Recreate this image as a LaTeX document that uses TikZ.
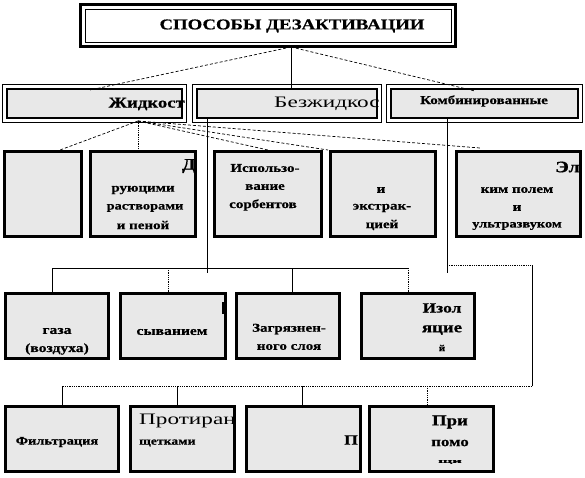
\documentclass[tikz,border=0pt]{standalone}
\usepackage{fontspec}
\setmainfont{Liberation Serif}
\newfontfamily\rs[FakeStretch=1.25, BoldFeatures={FakeBold=0.6}]{Liberation Serif}
\newfontfamily\rw[FakeStretch=1.45]{Liberation Serif}
\definecolor{boxgray}{HTML}{E8E8E8}
\begin{document}
\begin{tikzpicture}[x=1pt,y=-1pt,
  cell/.style={draw=black, line width=2.6pt, fill=boxgray, inner sep=0pt},
  dcell/.style={draw=black, line width=2pt, fill=boxgray, inner sep=0pt, minimum height=29pt},
  conn/.style={line width=0.8pt},
  dsh/.style={line width=0.7pt, densely dashed},
  dot/.style={line width=0.8pt, densely dotted},
  tx/.style={inner sep=0pt, font=\rs\bfseries\fontsize{#1}{#1}\selectfont},
  tr/.style={inner sep=0pt, font=\rw\fontsize{#1}{#1}\selectfont}]
\useasboundingbox (0,0) rectangle (585,477);
\fill[white] (0,0) rectangle (585,477);

% title
\node[draw=black, line width=0.8pt, fill=white, minimum width=366pt, minimum height=33pt, inner sep=0pt] (title) at (268,25.5) {};
\draw[line width=3pt] ([shift={(-4pt,4pt)}]title.north west) rectangle ([shift={(4pt,-4pt)}]title.south east);
\node[tx=15] (ttl) at (292,26) {СПОСОБЫ ДЕЗАКТИВАЦИИ};

% row 2
\node[dcell, minimum width=175pt] (liq) at (94.5,103.5) {};
\node[dcell, minimum width=180pt] (noliq) at (287,103.5) {};
\node[dcell, minimum width=187pt] (comb) at (484.5,103.5) {};
\foreach \b in {liq,noliq,comb}
  \draw[line width=0.9pt] ([shift={(-3.5pt,3.5pt)}]\b.north west) rectangle ([shift={(3.5pt,-3.5pt)}]\b.south east);
\node[tx=15, anchor=east] (liqt) at (185,104) {Жидкост};
\node[tr=16, anchor=west] (noliqt) at (274,104) {Безжидкос};
\node[tx=12] (combt) at (484,101) {Комбинированные};

% row 3
\node[cell, minimum width=77.4pt, minimum height=85.4pt] (r3a) at (43,194) {};
\node[cell, minimum width=105.4pt, minimum height=85.4pt] (r3b) at (143,194) {};
\node[cell, minimum width=107.4pt, minimum height=85.4pt] (r3c) at (268,194) {};
\node[cell, minimum width=105.4pt, minimum height=85.4pt] (r3d) at (383,194) {};
\node[cell, minimum width=124.4pt, minimum height=85.4pt] (r3e) at (518.5,194) {};
\node[tx=16, anchor=east] (r3b0) at (196,166) {Д};
\node[tx=12] (r3b1) at (143,190) {руюцими};
\node[tx=11.5] (r3b2) at (145,208) {растворами};
\node[tx=12] (r3b3) at (143,225) {и пеной};
\node[tx=12] (r3c1) at (265,168) {Использо-};
\node[tx=12] (r3c2) at (265,187) {вание};
\node[tx=12] (r3c3) at (263,205) {сорбентов};
\node[tx=12] (r3d1) at (381,190) {и};
\node[tx=12] (r3d2) at (382,208) {экстрак-};
\node[tx=12] (r3d3) at (382,225) {цией};
\node[tx=16, anchor=east] (r3e0) at (580,167) {Эл};
\node[tx=12] (r3e1) at (517,190) {ким полем};
\node[tx=12] (r3e2) at (517,208) {и};
\node[tx=11.5] (r3e3) at (517,226) {ультразвуком};

% row 4
\node[cell, minimum width=103.4pt, minimum height=65.4pt] (r4a) at (57,326) {};
\node[cell, minimum width=105.4pt, minimum height=65.4pt] (r4b) at (173,326) {};
\node[cell, minimum width=103.4pt, minimum height=65.4pt] (r4c) at (288,326) {};
\node[cell, minimum width=113.4pt, minimum height=65.4pt] (r4d) at (418,326) {};
\node[tx=12.5] (r4a1) at (57,331) {газа};
\node[tx=12.5] (r4a2) at (57,349) {(воздуха)};
\node[tx=12.5] (r4b1) at (172,332) {сыванием};
\draw[line width=1.6pt] (223,302) -- (223,314);
\node[tx=12] (r4c1) at (289,329) {Загрязнен-};
\node[tx=12] (r4c2) at (289,347) {ного слоя};
\node[tx=14] (r4d1) at (442,308) {Изол};
\node[tx=15] (r4d2) at (442,330) {яцие};
\node[tx=9] (r4d3) at (442,348) {й};

% row 5
\node[cell, minimum width=113.4pt, minimum height=65.4pt] (r5a) at (62,439) {};
\node[cell, minimum width=104.4pt, minimum height=65.4pt] (r5b) at (182.5,439) {};
\node[cell, minimum width=114.4pt, minimum height=65.4pt] (r5c) at (303.5,439) {};
\node[cell, minimum width=124.4pt, minimum height=65.4pt] (r5d) at (431.5,439) {};
\node[tx=11.5] (r5a1) at (57,442) {Фильтрация};
\node[tr=16, anchor=west] (r5b1) at (139,421) {Протиран};
\node[tx=11, anchor=west] (r5b2) at (139,443) {щетками};
\node[tx=14, anchor=west] (r5c1) at (344,440) {П};
\node[tx=15] (r5d1) at (450,422) {При};
\node[tx=13.5] (r5d2) at (450,443) {помо};
\node[tx=6] (r5d3) at (450,462) {\scalebox{2.2}[1]{щи}};

% junction coordinates
\coordinate (tj) at (291,47);
\coordinate (nlin) at (291,90);
\coordinate (lqin) at (90,90);
\coordinate (cbin) at (475,91);
\coordinate (fo) at (138,121);
\coordinate (f1) at (60,150);
\coordinate (f2) at (138,150);
\coordinate (f3) at (268,150);
\coordinate (f4) at (328,150);
\coordinate (f5) at (480,148);
\coordinate (nlb) at (207,118);
\coordinate (nle) at (207,273);
\coordinate (b1l) at (52,268);
\coordinate (b1a) at (168,268);
\coordinate (b1b) at (292,268);
\coordinate (b1r) at (408,268);
\coordinate (cbb) at (447,118);
\coordinate (cbe) at (447,273);
\coordinate (cbh) at (447,265);
\coordinate (rt) at (532,265);
\coordinate (rb) at (532,386);
\coordinate (b2l) at (62,386);
\coordinate (b2a) at (177,386);
\coordinate (b2b) at (302,386);
\coordinate (b2c) at (427,386);

% connectors
\draw[conn] (tj) -- (nlin);
\draw[dsh] (tj) -- (lqin);
\draw[dsh] (tj) -- (cbin);
\draw[dsh] (fo) -- (f1);
\draw[dot] (fo) -- (f2);
\draw[dsh] (fo) -- (f3);
\draw[dsh] (fo) -- (f4);
\draw[dsh] (fo) -- (f5);
\draw[conn] (nlb) -- (nle);
\draw[conn] (b1l) -- (b1r);
\draw[conn] (b1l) -- (b1l |- r4a.north);
\draw[dot] (b1a) -- (b1a |- r4b.north);
\draw[conn] (b1b) -- (b1b |- r4c.north);
\draw[dot] (b1r) -- (b1r |- r4d.north);
\draw[conn] (cbb) -- (cbe);
\draw[dot] (cbh) -- (rt);
\draw[conn] (rt) -- (rb);
\draw[dot] (rb) -- (b2l);
\draw[conn] (b2l) -- (b2l |- r5a.north);
\draw[conn] (b2a) -- (b2a |- r5b.north);
\draw[conn] (b2b) -- (b2b |- r5c.north);
\draw[dot] (b2c) -- (b2c |- r5d.north);
\end{tikzpicture}
\end{document}
